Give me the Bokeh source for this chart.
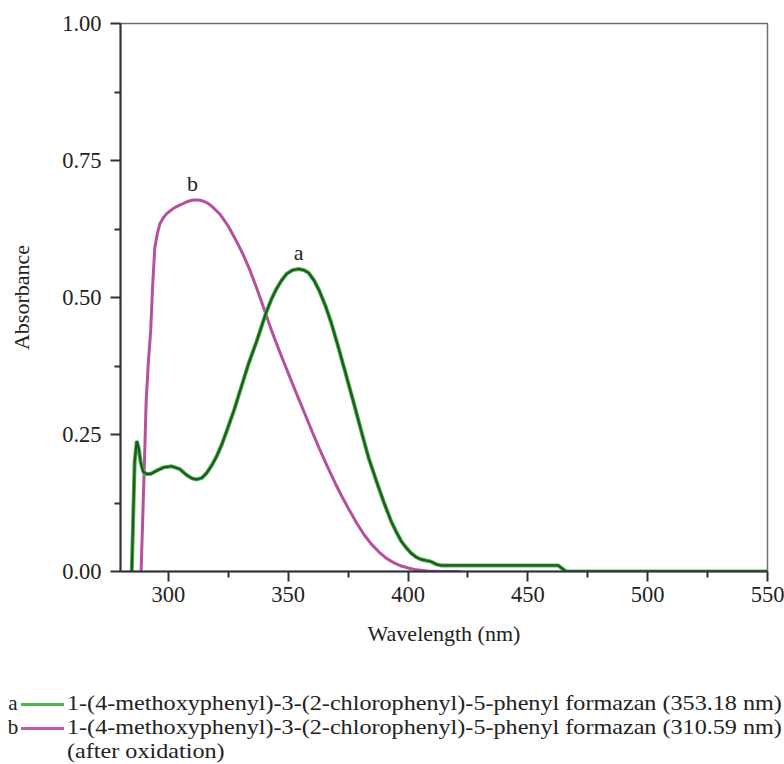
from bokeh.plotting import figure
from bokeh.layouts import column
from bokeh.models import Range1d, FixedTicker, NumeralTickFormatter, Div
from bokeh.core.properties import value
from bokeh.embed import file_html
from bokeh.resources import INLINE

# ---- data ----
wl_a = [284.7, 285.3, 285.9, 286.8, 287.6, 288.4, 289.5, 290.8, 292.5, 295, 298, 301.4, 304.7,
        307.6, 309.8, 311.8, 314, 316, 318, 320.1, 322.3, 324.3, 327.5, 330.5, 333.5, 336.8,
        339, 341, 343, 345.1, 347.2, 349.3, 351.8, 354.3, 356.5, 358.5, 360.8, 363, 365.5,
        368, 371, 374.3, 377.5, 380.5, 383.5, 386.8, 390, 393, 395, 397.2, 399.3, 401.4,
        403.5, 405.5, 407.5, 409.7, 411.8, 413.9, 462.6, 466, 550]
abs_a = [0, 0.10, 0.20, 0.238, 0.225, 0.2, 0.182, 0.178, 0.178, 0.184, 0.19, 0.192, 0.187,
         0.176, 0.17, 0.168, 0.171, 0.18, 0.193, 0.21, 0.232, 0.256, 0.296, 0.338, 0.38, 0.42,
         0.449, 0.475, 0.497, 0.516, 0.531, 0.543, 0.55, 0.552, 0.55, 0.545, 0.531, 0.512,
         0.485, 0.453, 0.408, 0.356, 0.305, 0.256, 0.208, 0.165, 0.125, 0.091, 0.073, 0.055,
         0.043, 0.033, 0.026, 0.022, 0.02, 0.018, 0.013, 0.011, 0.011, 0, 0]

wl_b = [288.6, 289.3, 290.0, 290.7, 291.6, 292.6, 293.4, 294.3, 295.3, 296.4, 297.8, 299.3,
        301, 302.6, 304.5, 306.4, 308.5, 310.5, 312.5, 314.5, 316.5, 318.5, 321.5, 325, 328,
        331, 334, 337, 340, 343, 346.5, 350, 353.5, 357, 360, 363, 366.5, 369.5, 372.5, 375.5,
        378.5, 381.5, 384.7, 388, 391, 394, 397.2, 400.5, 403.5, 408, 413.9, 422]
abs_b = [0, 0.1, 0.2, 0.31, 0.38, 0.44, 0.52, 0.59, 0.615, 0.634, 0.645, 0.653, 0.659, 0.664,
         0.668, 0.672, 0.676, 0.678, 0.678, 0.676, 0.672, 0.665, 0.652, 0.63, 0.606, 0.58,
         0.55, 0.515, 0.478, 0.44, 0.40, 0.362, 0.324, 0.287, 0.255, 0.224, 0.19, 0.162,
         0.136, 0.112, 0.089, 0.068, 0.05, 0.035, 0.024, 0.016, 0.01, 0.006, 0.003, 0.001, 0, 0]

peak_labels = ["a", "b"]
peak_wl = [354.3, 310.0]
peak_abs = [0.582, 0.708]

x_ticks = [300, 350, 400, 450, 500, 550]
x_minor = [325, 375, 425, 475, 525]
y_ticks = [0.0, 0.25, 0.5, 0.75, 1.0]
y_minor = [0.125, 0.375, 0.625, 0.875]

legend_keys = ["a", "b"]
legend_texts = ["1-(4-methoxyphenyl)-3-(2-chlorophenyl)-5-phenyl formazan (353.18 nm)",
                "1-(4-methoxyphenyl)-3-(2-chlorophenyl)-5-phenyl formazan (310.59 nm)",
                "(after oxidation)"]

FONT = "Liberation Serif"
AX = "#2b3338"
TXT = "#222222"
GREEN_DARK = "#1f5a22"
GREEN_LIGHT = "#4cb44c"
MAGENTA = "#b4509c"
LEG_MAGENTA = "#c25aa6"

W = 784
H_PLOT = 650
BL, BR, BT = 120, 17, 23
FB = 571  # frame bottom (px)

p = figure(width=W, height=H_PLOT, x_range=Range1d(280, 550), y_range=Range1d(0, 1),
           output_backend="svg", toolbar_location=None,
           min_border_left=BL, min_border_right=BR, min_border_top=BT,
           min_border_bottom=H_PLOT - FB)
p.grid.visible = False
p.background_fill_color = "white"
p.border_fill_color = "white"
p.outline_line_color = "#6e6e6e"
p.outline_line_width = 1.5

p.line(wl_b, abs_b, line_color=MAGENTA, line_width=3)
p.line(wl_a, abs_a, line_color=GREEN_LIGHT, line_width=4)
p.line(wl_a, abs_a, line_color=GREEN_DARK, line_width=2.2)

p.text(x=peak_wl, y=peak_abs, text=peak_labels, text_align="center", text_baseline="middle",
       text_font=value(FONT), text_font_size="22px", text_color=TXT)

p.xaxis.ticker = FixedTicker(ticks=x_ticks, minor_ticks=x_minor)
p.yaxis.ticker = FixedTicker(ticks=y_ticks, minor_ticks=y_minor)
p.yaxis.formatter = NumeralTickFormatter(format="0.00")

for ax in (p.xaxis, p.yaxis):
    ax.axis_line_color = AX
    ax.axis_line_width = 2
    ax.major_tick_line_color = AX
    ax.major_tick_line_width = 2
    ax.minor_tick_line_color = AX
    ax.minor_tick_line_width = 2
    ax.major_tick_in = 0
    ax.major_tick_out = 10
    ax.minor_tick_in = 0
    ax.minor_tick_out = 6
    ax.major_label_text_font = FONT
    ax.major_label_text_font_size = "22.5px"
    ax.major_label_text_color = TXT
    ax.axis_label_text_font = FONT
    ax.axis_label_text_font_size = "22px"
    ax.axis_label_text_font_style = "normal"
    ax.axis_label_text_color = TXT

p.xaxis.axis_label = "Wavelength (nm)"
p.yaxis.axis_label = "Absorbance"
p.xaxis.major_label_standoff = 5
p.yaxis.major_label_standoff = 9
p.xaxis.axis_label_standoff = 16
p.yaxis.axis_label_standoff = 25

# ---- legend (HTML text below the plot) ----
row_y = [704, 728, 752]          # row centres, page px
key_x, line_x0, line_x1, text_x = 13, 21, 64, 67
FS = 21
STRETCH = 1.15
H_LEG = 110
parts = []
colors = [GREEN_LIGHT, LEG_MAGENTA]
for i, key in enumerate(legend_keys):
    cy = row_y[i] - H_PLOT
    parts.append(
        f'<div style="position:absolute;left:{key_x - 6}px;top:{cy - 11}px;width:12px;'
        f'height:{FS}px;text-align:center;line-height:1;">{key}</div>')
    parts.append(
        f'<div style="position:absolute;left:{line_x0}px;top:{cy - 1.5}px;'
        f'width:{line_x1 - line_x0}px;height:3px;background:{colors[i]};"></div>')
for i, t in enumerate(legend_texts):
    cy = row_y[i] - H_PLOT
    parts.append(
        f'<div style="position:absolute;left:{text_x}px;top:{cy - 11}px;height:{FS}px;'
        f'white-space:nowrap;line-height:1;transform:scaleX({STRETCH});'
        f'transform-origin:0 50%;">{t}</div>')
html = (f'<div style="position:relative;width:{W}px;height:{H_LEG}px;'
        f'font-family:&quot;{FONT}&quot;,&quot;Times New Roman&quot;,serif;'
        f'font-size:{FS}px;color:{TXT};">' + "".join(parts) + '</div>')
leg = Div(text=html, width=W, height=H_LEG, margin=0)

layout = column(p, leg, spacing=0)
open("out.html", "w").write(file_html(layout, INLINE))
